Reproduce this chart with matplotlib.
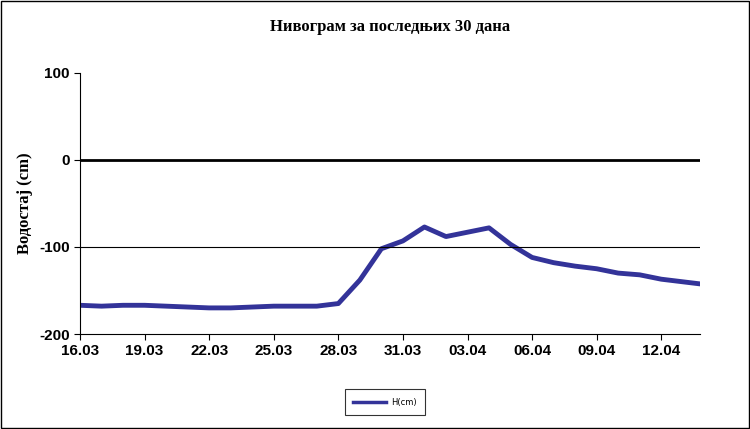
import matplotlib
matplotlib.use("Agg")
import matplotlib.pyplot as plt
plt.rcParams["axes.unicode_minus"] = False

dates = ["16.03","17.03","18.03","19.03","20.03","21.03","22.03","23.03","24.03","25.03",
         "26.03","27.03","28.03","29.03","30.03","31.03","01.04","02.04","03.04","04.04",
         "05.04","06.04","07.04","08.04","09.04","10.04","11.04","12.04","13.04","14.04"]
levels = [-167,-168,-167,-167,-168,-169,-170,-170,-169,-168,-168,-168,-165,-138,-102,-93,
          -77,-88,-83,-78,-97,-112,-118,-122,-125,-130,-132,-137,-140,-143]
yticks = [-200,-100,0,100]

fig = plt.figure(figsize=(7.5,4.29), dpi=100)
fig.patch.set_facecolor("white")
fig.patches.append(plt.Rectangle((0.001,0.002),0.997,0.995,transform=fig.transFigure,
                                 fill=False,edgecolor="black",lw=1))
ax = fig.add_axes([80/750, 1-334/429, 620/750, 261/429])
x = list(range(len(levels)))
ax.plot(x, levels, color="#333399", lw=3.5, label="H(cm)", solid_joinstyle="round")
ax.set_xlim(0, 28.8)
ax.set_ylim(-200, 100)
ax.set_yticks(yticks)
ax.set_xticks(x[::3][:10])
ax.set_xticklabels(dates[::3][:10])
ax.axhline(0, color="black", lw=2)
ax.axhline(-100, color="black", lw=0.8)
for s in ax.spines.values():
    s.set_color("black")
for s in ["top","right"]:
    ax.spines[s].set_visible(False)
ax.tick_params(axis="both", labelsize=11, direction="out", length=4)
for lab in ax.get_xticklabels()+ax.get_yticklabels():
    lab.set_fontweight("bold"); lab.set_family("Liberation Sans")
ax.set_ylabel("Водостај (cm)", fontsize=12, fontweight="bold", family="Liberation Serif")
fig.text(0.52, 1-27/429, "Нивограм за последњих 30 дана", ha="center", va="center",
         fontsize=12, fontweight="bold", family="Liberation Serif")
leg = fig.legend(loc="center", bbox_to_anchor=(385/750, 1-402/429), fontsize=6,
                 frameon=True, fancybox=False, edgecolor="black", handlelength=4,
                 borderpad=1.0, handletextpad=0.6)
leg.get_frame().set_linewidth(0.8)
for t in leg.get_lines():
    t.set_linewidth(2.5)
fig.savefig("out.png", dpi=100)
